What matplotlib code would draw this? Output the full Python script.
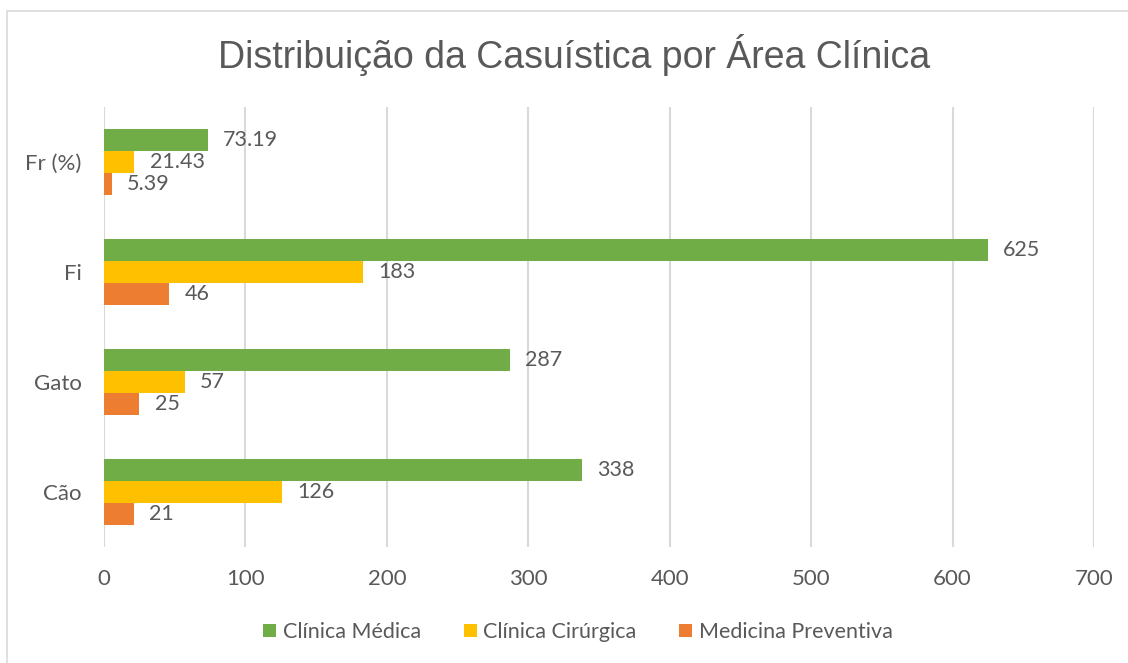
import numpy as np
import matplotlib.pyplot as plt
from matplotlib.patches import Rectangle

# dados
categorias = ["Cão", "Gato", "Fi", "Fr (%)"]
series = ["Clínica Médica", "Clínica Cirúrgica", "Medicina Preventiva"]
clinica_medica = [338, 287, 625, 73.19]
clinica_cirurgica = [126, 57, 183, 21.43]
medicina_preventiva = [21, 25, 46, 5.39]
rotulos = [
    ["338", "287", "625", "73.19"],
    ["126", "57", "183", "21.43"],
    ["21", "25", "46", "5.39"],
]
cores = ["#70AD47", "#FFC000", "#ED7D31"]
texto = "#595959"

plt.rcParams['font.family'] = ['Lato', 'DejaVu Sans']

fig = plt.figure(figsize=(11.28, 6.63), dpi=100)
ax = fig.add_axes([104 / 1128, 1 - 547 / 663, 990 / 1128, 440 / 663])

# borda do gráfico
fig.patches.append(Rectangle((7 / 1128, -0.1), 1.2, 1 - 11 / 663 + 0.1,
                             transform=fig.transFigure, fill=False,
                             edgecolor="#D9D9D9", linewidth=1.2))

y = np.arange(len(categorias))
h = 0.2
valores = [clinica_medica, clinica_cirurgica, medicina_preventiva]
offsets = [h, 0, -h]
for vals, nome, cor, off, labs in zip(valores, series, cores, offsets, rotulos):
    ax.barh(y + off, vals, height=h, color=cor, label=nome, zorder=3)
    for yi, v, lab in zip(y + off, vals, labs):
        ax.annotate(lab, (v, yi), xytext=(11, 0), textcoords="offset points",
                    va="center", ha="left", fontsize=15.5, color=texto)

ax.set_xlim(0, 700)
ax.set_ylim(-0.5, 3.5)
ax.set_xticks(np.arange(0, 701, 100))
ax.set_yticks(y)
ax.set_yticklabels(categorias)
ax.tick_params(length=0, labelsize=16, labelcolor=texto)
ax.tick_params(axis="x", pad=16)
ax.tick_params(axis="y", pad=16)
ax.grid(axis="x", color="#D9D9D9", linewidth=1.5, zorder=0)
for s in ax.spines.values():
    s.set_visible(False)

fig.text(574 / 1128, 1 - 55 / 663, "Distribuição da Casuística por Área Clínica",
         ha="center", va="center", fontsize=27, color=texto,
         family="Liberation Sans")

fig.legend(loc="center", bbox_to_anchor=(578 / 1128, 1 - 632 / 663), ncol=3,
           frameon=False, fontsize=15.5, labelcolor=texto, handlelength=0.6,
           handleheight=0.6, handletextpad=0.3, columnspacing=2.0)

fig.savefig("out.png", dpi=100)
